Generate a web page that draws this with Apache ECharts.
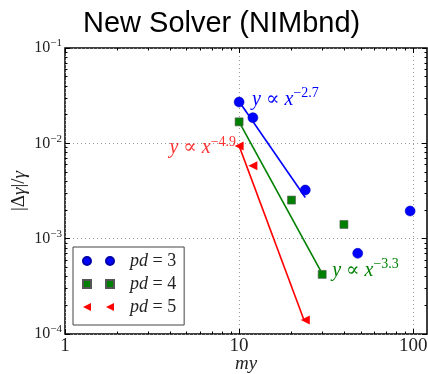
<!DOCTYPE html>
<html><head><meta charset="utf-8">
<script src="https://cdn.jsdelivr.net/npm/echarts@6/dist/echarts.min.js"></script>
<style>html,body{margin:0;padding:0;background:#fff}#c{width:428px;height:374px}</style>
</head><body><div id="c"></div>
<script>
const titleText = 'New Solver (NIMbnd)';
const xName = 'my';
const seriesNames = ['pd = 3', 'pd = 4', 'pd = 5'];
const pd3X = [10, 12, 24, 48, 96];
const pd3Y = [0.0271, 0.0186, 0.00324, 0.000702, 0.00195];
const pd4X = [10, 20, 30, 40];
const pd4Y = [0.0168, 0.00254, 0.000422, 0.00141];
const pd5X = [10, 12, 24];
const pd5Y = [0.00937, 0.00582, 0.00014];
const fit3X = [10, 24];   const fit3Y = [0.0275, 0.0027];
const fit4X = [10, 30];   const fit4Y = [0.0168, 0.00043];
const fit5X = [10, 23.5]; const fit5Y = [0.0094, 0.000143];
const fitExponents = ['−2.7', '−3.3', '−4.9'];
const xMajor = [1, 10, 100];
const xMinor = [2,3,4,5,6,7,8,9,20,30,40,50,60,70,80,90];
const yMajor = [0.0001, 0.001, 0.01, 0.1];
const yMinor = [0.0002,0.0003,0.0004,0.0005,0.0006,0.0007,0.0008,0.0009,
                0.002,0.003,0.004,0.005,0.006,0.007,0.008,0.009,
                0.02,0.03,0.04,0.05,0.06,0.07,0.08,0.09];

const BLUE = '#0000ff', GREEN = '#008000', RED = '#ff0000';
const SERIF = '"Liberation Serif", "DejaVu Serif", serif';
const zip = (xs, ys) => xs.map((x, i) => [x, ys[i]]);

const tickRich = {
  b: {fontFamily: SERIF, fontSize: 16, color: '#222', lineHeight: 20},
  s: {fontFamily: SERIF, fontSize: 11, color: '#222', verticalAlign: 'top', lineHeight: 11}
};
function powLabel(v) {
  const e = Math.round(Math.log10(v));
  return '{b|10}{s|' + (e < 0 ? '−' + (-e) : e) + '}';
}
function mathRich(color) {
  return {
    i: {fontFamily: SERIF, fontStyle: 'italic', fontSize: 20, color: color, lineHeight: 26},
    n: {fontFamily: SERIF, fontSize: 20, color: color, lineHeight: 26},
    s: {fontFamily: SERIF, fontSize: 14, color: color, verticalAlign: 'top', lineHeight: 14}
  };
}
function mathLabel(exp) { return '{i|y}{n| ∝ }{i|x}{s|' + exp + '}'; }

function xAx(pos, vals, len, isMain) {
  return {
    type: 'log', logBase: 10, min: 1, max: 120, position: pos,
    axisLine: {show: false},
    axisTick: {show: true, inside: true, length: len, customValues: vals, lineStyle: {color: '#000', width: 1}},
    axisLabel: isMain ? {show: true, customValues: xMajor, formatter: v => String(v), fontFamily: SERIF, fontSize: 19, color: '#222', margin: 3} : {show: false},
    splitLine: isMain ? {show: true, lineStyle: {type: [1, 3], color: '#999', width: 1}} : {show: false},
    name: isMain ? xName : '', nameLocation: 'middle', nameGap: 20, nameMoveOverlap: false,
    nameTextStyle: {fontFamily: SERIF, fontStyle: 'italic', fontSize: 19, color: '#222'}
  };
}
function yAx(pos, vals, len, isMain) {
  return {
    type: 'log', logBase: 10, min: 0.0001, max: 0.1, position: pos,
    axisLine: {show: false},
    axisTick: {show: true, inside: true, length: len, customValues: vals, lineStyle: {color: '#000', width: 1}},
    axisLabel: isMain ? {show: true, customValues: yMajor, formatter: powLabel, rich: tickRich, margin: 3} : {show: false},
    splitLine: isMain ? {show: true, lineStyle: {type: [1, 3], color: '#999', width: 1}} : {show: false},
    name: isMain ? '|Δ{i|γ}|/{i|γ}' : '', nameLocation: 'middle', nameGap: 36, nameRotate: 90, nameMoveOverlap: false,
    nameTextStyle: {fontFamily: SERIF, fontSize: 19, color: '#222',
      rich: {i: {fontFamily: SERIF, fontStyle: 'italic', fontSize: 19, color: '#222'}}}
  };
}

const chart = echarts.init(document.getElementById('c'), null, {renderer: 'canvas'});
chart.setOption({
  animation: false,
  backgroundColor: '#fff',
  title: {text: titleText, left: 78, top: 4,
    textStyle: {fontFamily: '"Liberation Sans", Arial, sans-serif', fontWeight: 'normal', fontSize: 29, color: '#000'}},
  grid: {left: 65, right: 1, top: 48, bottom: 40, show: true, borderColor: '#000', borderWidth: 1.5,
    backgroundColor: 'transparent', outerBoundsMode: 'none', containLabel: false},
  xAxis: [xAx('bottom', xMajor, 5, true), xAx('bottom', xMinor, 2.5, false), xAx('top', xMajor, 5, false), xAx('top', xMinor, 2.5, false)],
  yAxis: [yAx('left', yMajor, 5, true), yAx('left', yMinor, 2.5, false), yAx('right', yMajor, 5, false), yAx('right', yMinor, 2.5, false)],
  legend: {
    left: 73, top: 247, orient: 'vertical', backgroundColor: '#fff', borderColor: '#444', borderWidth: 1,
    padding: [5, 8, 9, 9], itemGap: 5, itemWidth: 31, itemHeight: 8,
    data: [
      {name: seriesNames[0], icon: 'path://M0,4a4,4 0 1,0 8,0a4,4 0 1,0 -8,0M23,4a4,4 0 1,0 8,0a4,4 0 1,0 -8,0', itemStyle: {color: BLUE}},
      {name: seriesNames[1], icon: 'path://M0,0h8v8h-8zM23,0h8v8h-8z', itemStyle: {color: GREEN}},
      {name: seriesNames[2], icon: 'path://M0,4L8,0L8,8ZM23,4L31,0L31,8Z', itemStyle: {color: RED}}
    ],
    formatter: n => '{i|pd}{n| ' + n.slice(3) + '}',
    textStyle: {fontFamily: SERIF, fontSize: 18, color: '#222',
      rich: {i: {fontFamily: SERIF, fontStyle: 'italic', fontSize: 18, color: '#222', padding: [0, 0, 0, 11]},
             n: {fontFamily: SERIF, fontSize: 18, color: '#222'}}}
  },
  series: [
    {type: 'line', data: zip(fit3X, fit3Y), symbol: 'circle', symbolSize: 0, showSymbol: true, silent: true, z: 2, lineStyle: {color: BLUE, width: 1.6},
     itemStyle: {color: BLUE},
     label: {show: true, position: 'right', distance: 13, offset: [0, -2], formatter: p => p.dataIndex === 0 ? mathLabel(fitExponents[0]) : '', rich: mathRich(BLUE)}},
    {type: 'line', data: zip(fit4X, fit4Y), symbol: 'circle', symbolSize: 0, showSymbol: true, silent: true, z: 2, lineStyle: {color: GREEN, width: 1.6},
     itemStyle: {color: GREEN},
     label: {show: true, position: 'right', distance: 10, offset: [0, -3], formatter: p => p.dataIndex === 1 ? mathLabel(fitExponents[1]) : '', rich: mathRich(GREEN)}},
    {type: 'line', data: zip(fit5X, fit5Y), symbol: 'circle', symbolSize: 0, showSymbol: true, silent: true, z: 2, lineStyle: {color: RED, width: 1.6},
     itemStyle: {color: RED},
     label: {show: true, position: 'left', distance: 3, offset: [0, 2], formatter: p => p.dataIndex === 0 ? mathLabel(fitExponents[2]) : '', rich: mathRich('#ff3030')}},
    {name: seriesNames[0], type: 'scatter', data: zip(pd3X, pd3Y), symbol: 'circle', symbolSize: 10, z: 3, itemStyle: {color: BLUE, opacity: 1, borderColor: '#0000aa', borderWidth: 0.5}},
    {name: seriesNames[1], type: 'scatter', data: zip(pd4X, pd4Y), symbol: 'rect', symbolSize: 8, z: 3, itemStyle: {color: GREEN, opacity: 1, borderColor: '#555', borderWidth: 0.6}},
    {name: seriesNames[2], type: 'scatter', data: zip(pd5X, pd5Y), symbol: 'path://M0,5L10,0L10,10Z', symbolSize: 9, z: 3, itemStyle: {color: RED, opacity: 1}}
  ]
});
</script></body></html>
